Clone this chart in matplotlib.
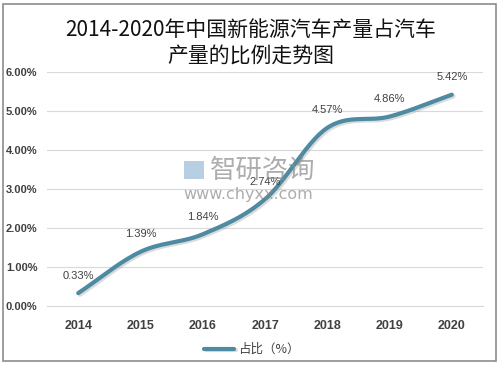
import numpy as np
import matplotlib
matplotlib.use('Agg')
import matplotlib.pyplot as plt
from matplotlib.patches import Rectangle
import matplotlib.patheffects as pe

plt.rcParams['font.family'] = ['Noto Sans CJK SC', 'DejaVu Sans']

# data
years = ['2014', '2015', '2016', '2017', '2018', '2019', '2020']
share = [0.33, 1.39, 1.84, 2.74, 4.57, 4.86, 5.42]
yticks = [0, 1, 2, 3, 4, 5, 6]


def smooth(x, y, n=30):
    # Catmull-Rom style smoothing like Excel's smoothed line
    x = np.asarray(x, float)
    y = np.asarray(y, float)
    px = np.concatenate([[2 * x[0] - x[1]], x, [2 * x[-1] - x[-2]]])
    py = np.concatenate([[2 * y[0] - y[1]], y, [2 * y[-1] - y[-2]]])
    xs, ys = [], []
    for i in range(1, len(px) - 2):
        t = np.linspace(0, 1, n)
        for arr, out in ((px, xs), (py, ys)):
            p0, p1, p2, p3 = arr[i - 1], arr[i], arr[i + 1], arr[i + 2]
            out.extend(0.5 * ((2 * p1) + (-p0 + p2) * t
                              + (2 * p0 - 5 * p1 + 4 * p2 - p3) * t ** 2
                              + (-p0 + 3 * p1 - 3 * p2 + p3) * t ** 3))
    return np.array(xs), np.array(ys)


fig = plt.figure(figsize=(5.01, 3.66), dpi=100)
fig.patches.append(Rectangle((0.006, 0.014), 0.984, 0.975, transform=fig.transFigure,
                             fill=False, edgecolor='#8c8c8c', linewidth=1.2))

ax = fig.add_axes([0.094, 0.164, 0.870, 0.639])
x = np.arange(len(years))
sx, sy = smooth(x, share)

line_color = '#4e8aa1'
ax.plot(sx, sy, color=line_color, linewidth=3.0, solid_capstyle='round', zorder=3,
        path_effects=[pe.SimpleLineShadow(offset=(1.2, -1.2), shadow_color='#9a9a9a', alpha=0.35),
                      pe.Normal()],
        label='占比（%）')

for xi, v in zip(x, share):
    ax.annotate('%.2f%%' % v, (xi, v), xytext=(0, 9), textcoords='offset points',
                ha='center', va='bottom', fontsize=8, color='#404040',
                family=['Liberation Sans'], zorder=4)

ax.set_xlim(-0.5, len(years) - 0.5)
ax.set_ylim(0, 6)
ax.set_yticks(yticks)
ax.set_yticklabels(['%.2f%%' % t for t in yticks])
ax.set_xticks(x)
ax.set_xticklabels(years)
ax.grid(axis='y', color='#d9d9d9', linewidth=0.8)
ax.set_axisbelow(True)
for s in ['top', 'right', 'left']:
    ax.spines[s].set_visible(False)
ax.spines['bottom'].set_color('#d9d9d9')
ax.tick_params(axis='both', length=0, colors='#404040')
ax.tick_params(axis='x', pad=10)
ax.tick_params(axis='y', pad=7)
for lab in ax.get_yticklabels():
    lab.set_fontsize(8)
for lab in ax.get_xticklabels():
    lab.set_fontsize(9)
for lab in ax.get_xticklabels() + ax.get_yticklabels():
    lab.set_fontweight('bold')
    lab.set_family(['Liberation Sans'])

fig.text(0.5, 0.918, '2014-2020年中国新能源汽车产量占汽车', ha='center', va='center',
         fontsize=15, color='#111111')
fig.text(0.5, 0.848, '产量的比例走势图', ha='center', va='center',
         fontsize=15, color='#111111')

# watermark
fig.text(0.42, 0.535, '智研咨询', ha='left', va='center', fontsize=19, color='#8a8a8a', alpha=0.7)
fig.text(0.365, 0.468, 'www.chyxx.com', ha='left', va='center', fontsize=11.5, color='#8a8a8a',
         alpha=0.7, family=['DejaVu Sans'])
fig.patches.append(Rectangle((0.368, 0.51), 0.04, 0.05, transform=fig.transFigure,
                             facecolor='#9bbad6', edgecolor='none', alpha=0.7))

leg = ax.legend(loc='upper center', bbox_to_anchor=(0.47, -0.11), frameon=False,
                fontsize=9, handlelength=2.4, handletextpad=0.3)
for t in leg.get_texts():
    t.set_color('#404040')

fig.savefig('out.png', dpi=100)
